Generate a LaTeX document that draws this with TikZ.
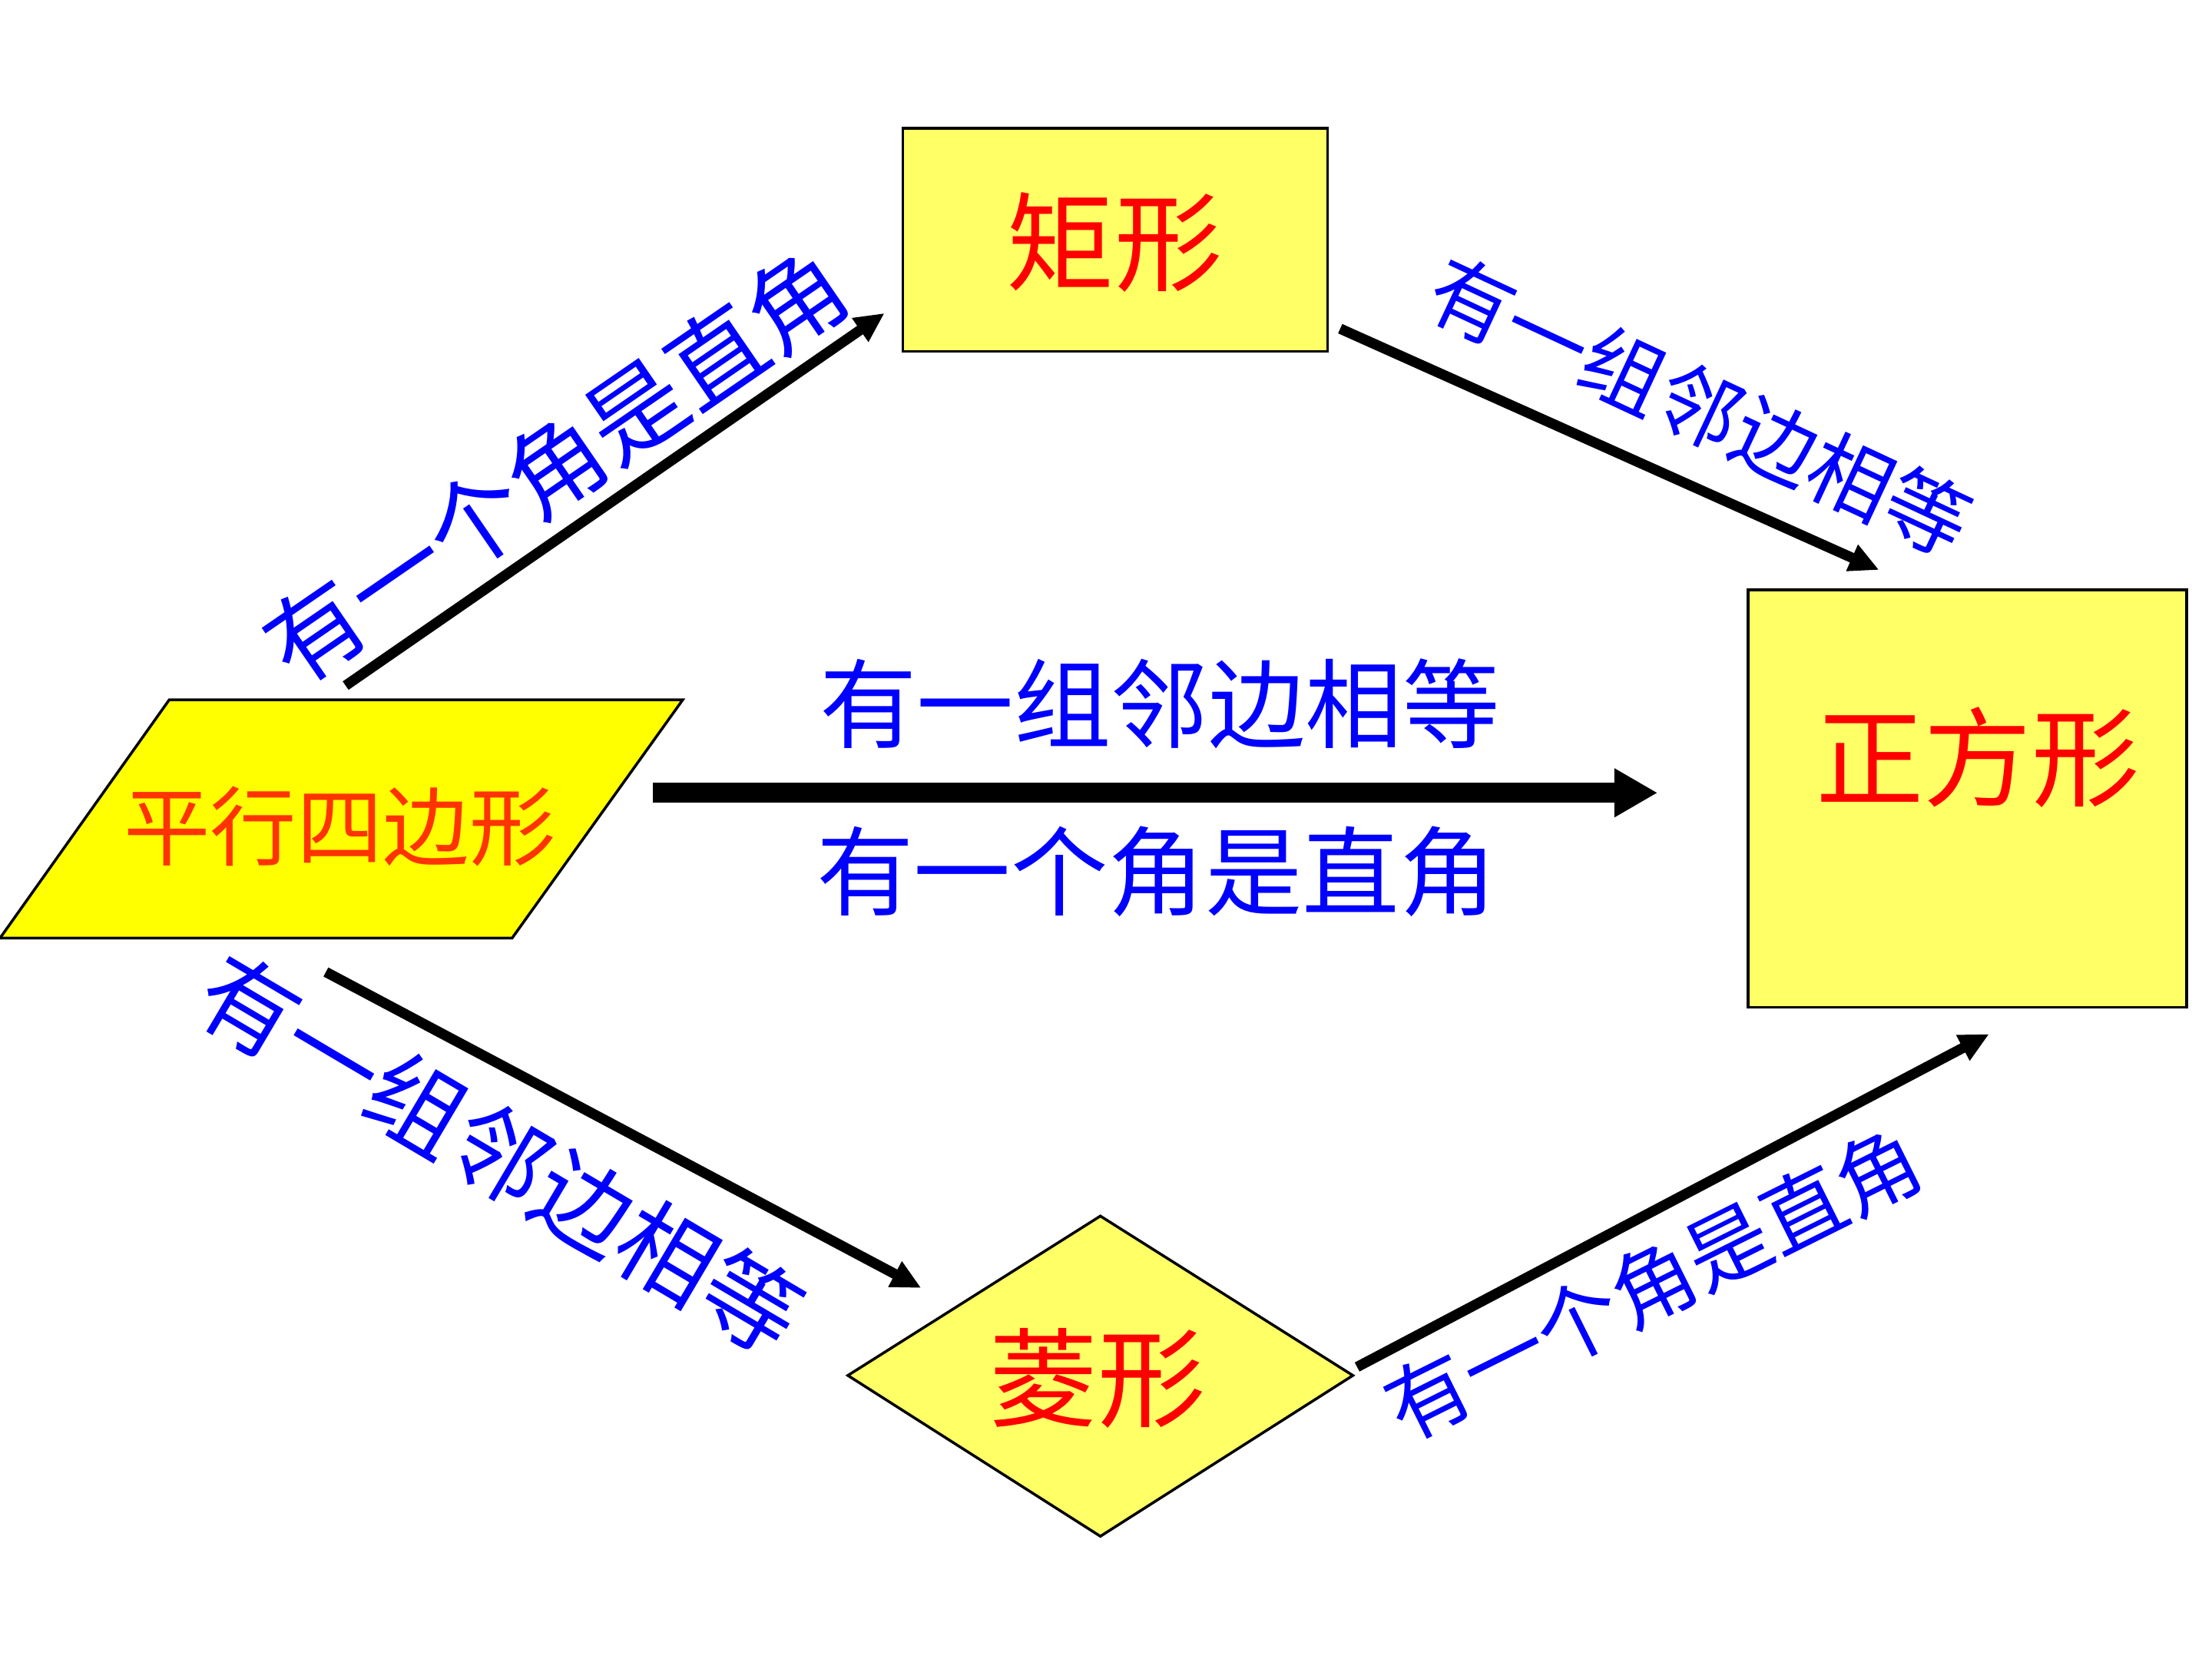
\documentclass[tikz,border=0pt]{standalone}
\usepackage{fontspec}
\newfontfamily\cjk{Noto Sans CJK SC}
\usetikzlibrary{arrows.meta}
\definecolor{lightyel}{RGB}{255,255,102}
\definecolor{brightyel}{RGB}{255,255,0}
\definecolor{orangered}{RGB}{255,51,0}
\begin{document}
\begin{tikzpicture}[x=0.018367cm,y=-0.018367cm,
  box/.style={draw=black,line width=1pt,fill=lightyel},
  shapetext/.style={text=red,font=\cjk\fontsize{40}{40}\selectfont,inner sep=0pt},
  lab/.style={text=blue,font=\cjk\fontsize{36}{36}\selectfont,inner sep=0pt},
  smalllab/.style={text=blue,font=\cjk\fontsize{31}{31}\selectfont,inner sep=0pt},
  conn/.style={line width=3.8pt,-{Triangle[length=11pt,width=10pt]}},
  mainconn/.style={line width=7.3pt,-{Triangle[length=16pt,width=17pt]}},
]
\useasboundingbox (0,0) rectangle (1568,1176);
\fill[white] (0,0) rectangle (1568,1176);

% rectangle
\node (rect) [box, minimum width=5.528cm, minimum height=2.902cm, inner sep=0pt] at (790.5,170) {};
\node (recttext) [shapetext] at (790,172) {矩形};

% square
\node (square) [box, minimum width=5.712cm, minimum height=5.437cm, inner sep=0pt] at (1394.5,566) {};
\node (squaretext) [shapetext] at (1402,537) {正方形};

% parallelogram
\draw[draw=black,line width=1pt,fill=brightyel] (0,665) -- (120,496) -- (484,496) -- (363,665) -- cycle;
\node (paratext) [text=orangered,font=\cjk\fontsize{32}{32}\selectfont,inner sep=0pt] at (241,586) {平行四边形};

% rhombus
\draw[draw=black,line width=1pt,fill=lightyel] (780,862) -- (959,975) -- (780,1089) -- (601,975) -- cycle;
\node (rhombtext) [shapetext] at (778,977) {菱形};

% arrow end points
\coordinate (a1s) at (245,486); \coordinate (a1e) at (627,222);
\coordinate (a2s) at (950,233); \coordinate (a2e) at (1332,404);
\coordinate (a3s) at (231,689); \coordinate (a3e) at (653,913);
\coordinate (a4s) at (962,969); \coordinate (a4e) at (1410,733);
\coordinate (ms) at (463,562);  \coordinate (me) at (1175,562);

\draw[conn] (a1s) -- (a1e);
\draw[conn] (a2s) -- (a2e);
\draw[conn] (a3s) -- (a3e);
\draw[conn] (a4s) -- (a4e);
\draw[mainconn] (ms) -- (me);

% labels
\node (l1) [lab, rotate=34.5] at (394,330) {有一个角是直角};
\node (l2) [smalllab, rotate=-25] at (1205,288) {有一组邻边相等};
\node (l3) [lab, rotate=-30.6] at (355,818) {有一组邻边相等};
\node (l4) [smalllab, rotate=26.5] at (1172,910) {有一个角是直角};
\node (lm1) [lab] at (822,499) {有一组邻边相等};
\node (lm2) [lab] at (820,618) {有一个角是直角};
\end{tikzpicture}
\end{document}
